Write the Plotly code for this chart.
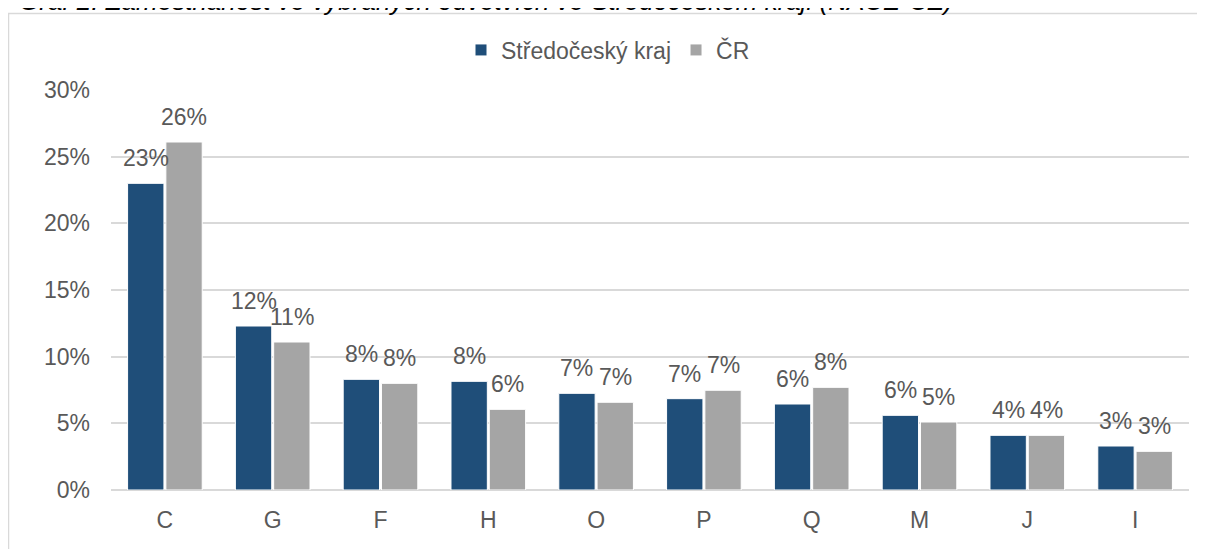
import plotly.graph_objects as go

categories = ["C", "G", "F", "H", "O", "P", "Q", "M", "J", "I"]
stredocesky = [23.0, 12.3, 8.3, 8.15, 7.25, 6.85, 6.45, 5.6, 4.1, 3.3]
cr = [26.1, 11.1, 8.0, 6.05, 6.58, 7.48, 7.7, 5.1, 4.1, 2.9]
series_names = ["Středočeský kraj", "ČR"]
colors = ["#1F4E79", "#A5A5A5"]
y_ticks = [0, 5, 10, 15, 20, 25, 30]
y_tick_labels = ["0%", "5%", "10%", "15%", "20%", "25%", "30%"]
title_text = "Graf 2: Zaměstnanost ve vybraných odvětvích ve Středočeském kraji (NACE-CZ)"

FONT = "Liberation Sans, Arial, sans-serif"
TXT = "#595959"

# page body has an 8px margin; figure coordinates are window coordinates minus 8
OFF = 8
W, H = 1205 - OFF, 549 - OFF
L, R_, T, B = 111 - OFF, 1189 - OFF, 90 - OFF, 490 - OFF
PW, PH = R_ - L, B - T


def px_x(wx):
    return (wx - OFF - L) / PW


def px_y(wy):
    return (B - (wy - OFF)) / PH


fig = go.Figure()
for name, vals, col in zip(series_names, [stredocesky, cr], colors):
    fig.add_trace(go.Bar(
        x=categories, y=vals, name=name,
        marker=dict(color=col, line=dict(color="#FFFFFF", width=1)),
        hoverinfo="skip",
    ))

bargap = 0.29
slot = (1 - bargap) / 2
offsets = [-slot / 2, slot / 2]
annotations = []
for s, vals in enumerate([stredocesky, cr]):
    for i, v in enumerate(vals):
        annotations.append(dict(
            x=i + offsets[s], y=v, xref="x", yref="y",
            text=f"{round(v):.0f}%", showarrow=False,
            yanchor="bottom", xanchor="center", yshift=10,
            font=dict(family=FONT, size=23, color=TXT),
        ))

annotations.append(dict(
    x=px_x(17), y=px_y(18), xref="paper", yref="paper",
    text=f"<i>{title_text}</i>", showarrow=False,
    xanchor="left", yanchor="bottom",
    font=dict(family=FONT, size=26, color="#000000"),
))

fig.update_layout(
    width=W, height=H,
    margin=dict(l=L, r=W - R_, t=T, b=H - B, autoexpand=False),
    paper_bgcolor="white", plot_bgcolor="white",
    barmode="group", bargap=bargap, bargroupgap=0.05,
    font=dict(family=FONT, size=23, color=TXT),
    legend=dict(
        orientation="h", x=px_x(608), xanchor="center",
        y=px_y(50), yanchor="middle",
        font=dict(family=FONT, size=23, color=TXT),
        itemwidth=30, tracegroupgap=0,
    ),
    showlegend=True,
    annotations=annotations,
    shapes=[dict(
        type="rect", xref="paper", yref="paper",
        x0=px_x(8.5), x1=px_x(1225),
        y0=px_y(580), y1=px_y(13.5),
        line=dict(color="#D9D9D9", width=1.5), fillcolor="rgba(0,0,0,0)",
        layer="below",
    )],
)
fig.update_xaxes(
    type="category", showgrid=False, showline=False, zeroline=False,
    ticks="", ticklabelstandoff=14,
    tickfont=dict(family=FONT, size=23, color=TXT),
)
fig.update_yaxes(
    range=[0, 30], tickmode="array", tickvals=y_ticks, ticktext=y_tick_labels,
    showgrid=True, gridcolor="#D9D9D9", gridwidth=1.5,
    zeroline=True, zerolinecolor="#D9D9D9", zerolinewidth=1.5,
    showline=False, ticks="", ticklabelstandoff=20,
    tickfont=dict(family=FONT, size=23, color=TXT),
)

fig.write_html("out.html")
